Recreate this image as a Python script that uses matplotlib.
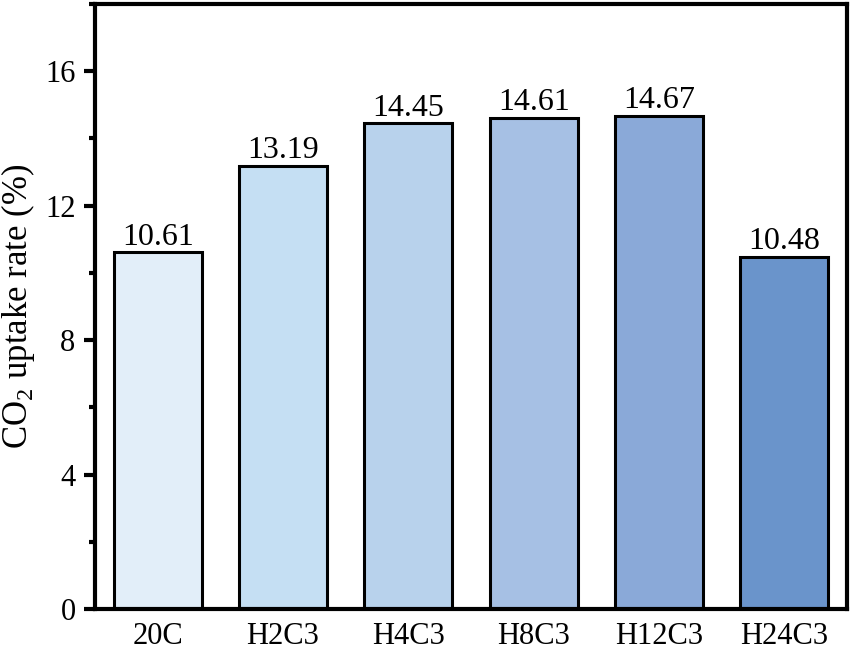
import matplotlib
matplotlib.use("Agg")
import matplotlib.pyplot as plt
from matplotlib.ticker import MultipleLocator

plt.rcParams['font.family'] = ['Liberation Serif', 'DejaVu Serif']
plt.rcParams['mathtext.fontset'] = 'custom'
plt.rcParams['mathtext.rm'] = 'Liberation Serif'

samples = ["20C", "H2C3", "H4C3", "H8C3", "H12C3", "H24C3"]
uptake = [10.61, 13.19, 14.45, 14.61, 14.67, 10.48]
colors = ["#e2eef9", "#c5dff3", "#b8d2ec", "#a6c0e4", "#8aa9d8", "#6a94cb"]

fig = plt.figure(figsize=(8.53, 6.55), dpi=100)
ax = fig.add_axes([95/853, 1 - 609/655, 752/853, 605/655])

x = range(len(samples))
bars = ax.bar(x, uptake, width=0.7, color=colors, edgecolor="black", linewidth=2.2)
for b, v in zip(bars, uptake):
    ax.text(b.get_x() + b.get_width() / 2, v + 0.02, f"{v:.2f}",
            ha="center", va="bottom", fontsize=23)

ax.set_xlim(-0.5, 5.5)
ax.set_ylim(0, 18)
ax.set_xticks(list(x))
ax.set_xticklabels(samples)
ax.yaxis.set_major_locator(MultipleLocator(4))
ax.yaxis.set_minor_locator(MultipleLocator(2))
ax.tick_params(axis="y", which="major", length=8, width=3, labelsize=22, direction="out", pad=6)
ax.tick_params(axis="y", which="minor", length=4, width=3, direction="out")
ax.tick_params(axis="x", length=0, labelsize=22, pad=9)
for s in ax.spines.values():
    s.set_linewidth(3)
ax.set_ylabel(r"CO$_2$ uptake rate (%)", fontsize=25, labelpad=6)

fig.savefig("out.png", dpi=100)
